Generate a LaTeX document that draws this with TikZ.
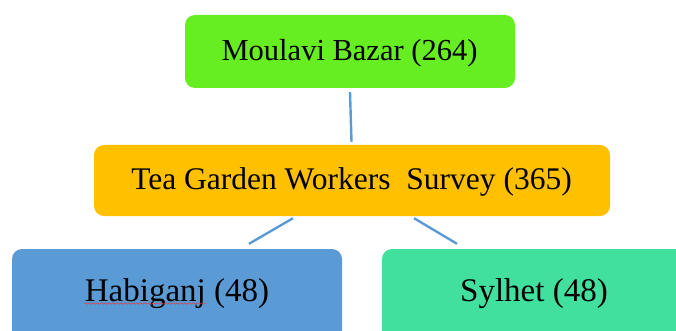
\documentclass[tikz,border=0pt]{standalone}
\usepackage{fontspec}
\setmainfont{Liberation Serif}
\usetikzlibrary{decorations.pathmorphing}
\definecolor{topgreen}{RGB}{103,238,34}
\definecolor{midorange}{RGB}{255,192,0}
\definecolor{habblue}{RGB}{91,155,213}
\definecolor{sylgreen}{RGB}{66,224,158}
\definecolor{linkblue}{RGB}{91,155,213}
\definecolor{spellred}{RGB}{220,60,60}
\begin{document}
\begin{tikzpicture}[x=1pt,y=-1pt,
  box/.style={rectangle, rounded corners=10pt, inner sep=0pt, draw=none},
  lbl/.style={anchor=base, inner sep=0pt, font=\fontsize{30.5}{36}\selectfont},
  lblmid/.style={anchor=base, inner sep=0pt, font=\fontsize{31.5}{38}\selectfont},
  lblbig/.style={anchor=base, inner sep=0pt, font=\fontsize{33}{40}\selectfont},
  link/.style={draw=linkblue, line width=2.4pt}]
\useasboundingbox (0,0) rectangle (676,331);
\clip (0,0) rectangle (676,331);
% boxes
\node[box, fill=topgreen, minimum width=330pt, minimum height=73pt] (top) at (350,51.5) {};
\node[box, fill=midorange, minimum width=516pt, minimum height=71pt] (mid) at (352,180.5) {};
\node[box, fill=habblue, minimum width=330pt, minimum height=96pt] (hab) at (177,297) {};
\node[box, fill=sylgreen, minimum width=318pt, minimum height=96pt] (syl) at (541,297) {};
% labels
\node[lbl] (toptext) at (349.5,60.7) {Moulavi Bazar (264)};
\node[lblmid] (midtext) at (351.5,189) {Tea Garden Workers\ \ Survey (365)};
\node[lblbig] (habtext) at (177,301) {Habiganj (48)};
\node[lblbig] (syltext) at (534,301) {Sylhet (48)};
\draw[spellred, line width=0.5pt, decorate, decoration={snake, amplitude=0.7pt, segment length=4pt}] (84,303.5) -- (206,303.5);
% connectors
\draw[link] ([yshift=-4pt]top.south) -- ([xshift=-0.5pt,yshift=3pt]mid.north);
\draw[link] ([xshift=-59pt,yshift=-2pt]mid.south) -- ([xshift=72pt,yshift=5pt]hab.north);
\draw[link] ([xshift=62pt,yshift=-2pt]mid.south) -- ([xshift=-84pt,yshift=5pt]syl.north);
\end{tikzpicture}
\end{document}
